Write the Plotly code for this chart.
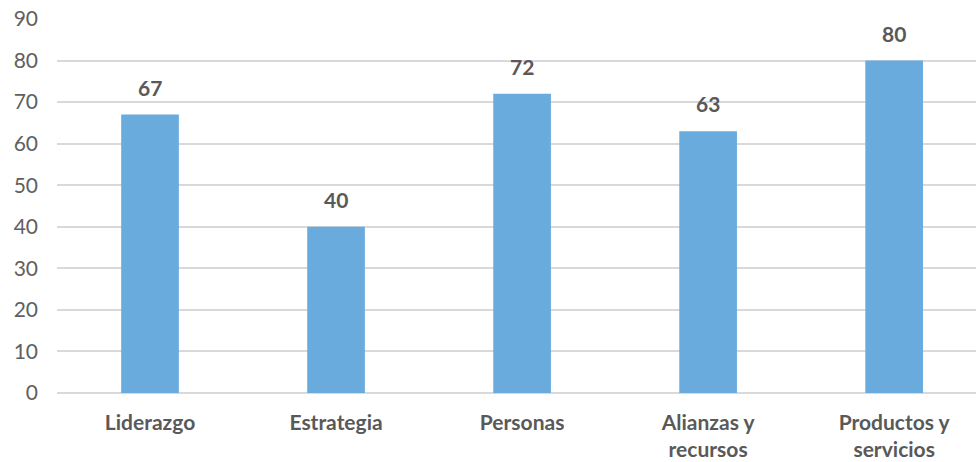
import plotly.graph_objects as go

categories = ["Liderazgo", "Estrategia", "Personas", "Alianzas y<br>recursos", "Productos y<br>servicios"]
values = [67, 40, 72, 63, 80]
y_ticks = [0, 10, 20, 30, 40, 50, 60, 70, 80, 90]

font_family = "Lato, 'Open Sans', sans-serif"
gray = "#595959"

xs = list(range(len(categories)))

fig = go.Figure(go.Bar(
    x=xs, y=values,
    marker=dict(color="#6AABDD", line=dict(width=0)),
))

for x, v in zip(xs, values):
    fig.add_annotation(
        x=x, y=v, text=f"<b>{v}</b>", showarrow=False,
        yanchor="bottom", yshift=13,
        font=dict(family=font_family, size=21, color=gray),
    )

fig.update_layout(
    width=976, height=462,
    margin=dict(l=57, r=0, t=19, b=69),
    paper_bgcolor="white", plot_bgcolor="white",
    bargap=0.69, showlegend=False,
    font=dict(family=font_family, color=gray),
    xaxis=dict(
        tickmode="array", tickvals=xs,
        ticktext=[f"<b>{c}</b>" for c in categories],
        range=[-0.5, 4.44], showgrid=False, zeroline=False,
        tickfont=dict(size=21, color=gray, family=font_family),
        ticks="", ticklabelstandoff=15, automargin=False,
    ),
    yaxis=dict(
        range=[0, 90], tickvals=y_ticks, showgrid=True, gridcolor="#D9D9D9",
        gridwidth=1.5, zeroline=True, zerolinecolor="#D9D9D9", zerolinewidth=1.5,
        tickfont=dict(size=21, color="#606060", family=font_family),
        ticks="", ticklabelstandoff=18, automargin=False,
    ),
)

fig.write_html("out.html", config={"displayModeBar": False},
               post_script="document.body.style.margin='0';")
